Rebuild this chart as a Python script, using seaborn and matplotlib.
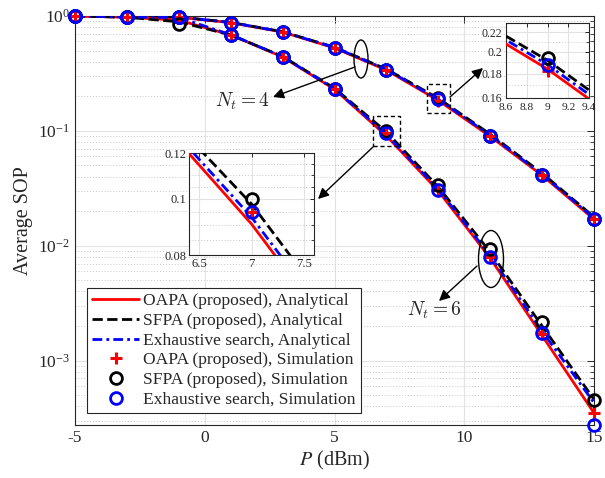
import numpy as np
import pandas as pd
import matplotlib
matplotlib.use("Agg")
import matplotlib.pyplot as plt
import seaborn as sns
from matplotlib.patches import Ellipse, Rectangle, FancyArrowPatch
from matplotlib.ticker import FixedLocator, FixedFormatter, LogLocator, NullFormatter

# ---------------- data ----------------
P_dbm = [-5, -3, -1, 1, 3, 5, 7, 9, 11, 13, 15]

# N_t = 4 (analytical)
oapa_an_4 = [1.0, 0.99, 0.975, 0.875, 0.725, 0.527, 0.338, 0.184, 0.0895, 0.0410, 0.0170]
sfpa_an_4 = [1.0, 0.99, 0.980, 0.880, 0.730, 0.535, 0.345, 0.192, 0.0935, 0.0428, 0.0178]
exh_an_4 = [1.0, 0.99, 0.978, 0.878, 0.728, 0.532, 0.342, 0.188, 0.0915, 0.0418, 0.0174]
# N_t = 4 (simulation)
oapa_sim_4 = [1.0, 0.99, 0.98, 0.875, 0.725, 0.527, 0.339, 0.182, 0.0905, 0.0413, 0.0171]
sfpa_sim_4 = [1.0, 0.99, 0.98, 0.875, 0.725, 0.527, 0.339, 0.194, 0.0905, 0.0413, 0.0171]
exh_sim_4 = [1.0, 0.99, 0.98, 0.875, 0.725, 0.527, 0.339, 0.188, 0.0905, 0.0413, 0.0171]

# N_t = 6 (analytical)
oapa_an_6 = [1.0, 0.975, 0.92, 0.684, 0.440, 0.230, 0.0905, 0.0300, 0.0078, 0.00165, 0.00035]
sfpa_an_6 = [1.0, 0.975, 0.89, 0.684, 0.445, 0.235, 0.0980, 0.0325, 0.0088, 0.00200, 0.00046]
exh_an_6 = [1.0, 0.980, 0.97, 0.688, 0.443, 0.232, 0.0930, 0.0310, 0.0082, 0.00180, 0.00043]
# N_t = 6 (simulation)
oapa_sim_6 = [1.0, 0.975, 0.96, 0.684, 0.443, 0.232, 0.095, 0.0306, 0.0080, 0.00172, 0.00035]
sfpa_sim_6 = [1.0, 0.975, 0.86, 0.684, 0.443, 0.232, 0.100, 0.0335, 0.0094, 0.00218, 0.00045]
exh_sim_6 = [1.0, 0.975, 0.975, 0.684, 0.443, 0.232, 0.095, 0.0306, 0.0080, 0.00173, 0.000275]

labels_an = ["OAPA (proposed), Analytical", "SFPA (proposed), Analytical",
             "Exhaustive search, Analytical"]
labels_sim = ["OAPA (proposed), Simulation", "SFPA (proposed), Simulation",
              "Exhaustive search, Simulation"]

x_ticks = [-5, 0, 5, 10, 15]

# ---------------- style ----------------
sns.set_style("white")
plt.rcParams.update({
    "font.family": ["Liberation Serif", "DejaVu Serif"],
    "mathtext.fontset": "stix",
    "axes.unicode_minus": False,
    "text.color": "#262626",
    "axes.edgecolor": "#262626",
    "xtick.color": "#262626",
    "ytick.color": "#262626",
})

RED, BLACK, BLUE = "#ff0000", "#000000", "#0000ff"
LW = 2.0
DASHDOT = (0, (3.5, 1.5, 1.0, 1.5))

fig = plt.figure(figsize=(6.05, 4.78), dpi=100)
ax = fig.add_axes([75 / 605, 1 - 425 / 478, 519 / 605, 409 / 478])


def draw(a, main):
    clip = not main
    sets = [(oapa_an_4, sfpa_an_4, exh_an_4, oapa_sim_4, sfpa_sim_4, exh_sim_4),
            (oapa_an_6, sfpa_an_6, exh_an_6, oapa_sim_6, sfpa_sim_6, exh_sim_6)]
    for k, (oa, sa, ea, os_, ss, es) in enumerate(sets):
        lab = main and k == 0
        sns.lineplot(x=P_dbm, y=oa, ax=a, color=RED, lw=LW, linestyle="-",
                     estimator=None, label=labels_an[0] if lab else None, zorder=3)
        sns.lineplot(x=P_dbm, y=sa, ax=a, color=BLACK, lw=LW, linestyle="--",
                     estimator=None, label=labels_an[1] if lab else None, zorder=3)
        sns.lineplot(x=P_dbm, y=ea, ax=a, color=BLUE, lw=LW, linestyle=DASHDOT,
                     estimator=None, label=labels_an[2] if lab else None, zorder=3)
    for k, (oa, sa, ea, os_, ss, es) in enumerate(sets):
        lab = main and k == 0
        sns.lineplot(x=P_dbm, y=os_, ax=a, color=RED, linestyle="", marker="+",
                     ms=8, mew=2.2, mec=RED, mfc=RED, estimator=None, clip_on=clip,
                     label=labels_sim[0] if lab else None, zorder=4)
        sns.lineplot(x=P_dbm, y=ss, ax=a, color=BLACK, linestyle="", marker="o",
                     ms=8.5, mew=2.0, mfc="none", mec=BLACK, estimator=None, clip_on=clip,
                     label=labels_sim[1] if lab else None, zorder=4)
        sns.lineplot(x=P_dbm, y=es, ax=a, color=BLUE, linestyle="", marker="o",
                     ms=8.5, mew=2.0, mfc="none", mec=BLUE, estimator=None, clip_on=clip,
                     label=labels_sim[2] if lab else None, zorder=5)
    a.set_yscale("log")
    if a.get_legend() is not None:
        a.get_legend().remove()


def style_axes(a, fs, major_len, minor_len):
    a.grid(True, which="major", color="#e2e2e2", lw=0.8, ls="-")
    a.grid(True, which="minor", axis="y", color="#c8c8c8", lw=0.7, ls=(0, (1, 2)))
    a.tick_params(which="both", direction="in", top=True, right=True, labelsize=fs)
    a.tick_params(which="major", length=major_len, width=0.7)
    a.tick_params(which="minor", length=minor_len, width=0.6)
    for s in a.spines.values():
        s.set_linewidth(0.8)
        s.set_color("#262626")
    a.set_axisbelow(True)


draw(ax, True)
ax.set_xlim(-5, 15)
ax.set_ylim(2.75e-4, 1.0)
ax.xaxis.set_major_locator(FixedLocator(x_ticks))
ax.yaxis.set_major_locator(LogLocator(base=10, numticks=10))
ax.yaxis.set_minor_locator(LogLocator(base=10, subs=np.arange(2, 10), numticks=20))
ax.yaxis.set_minor_formatter(NullFormatter())
style_axes(ax, 12.5, 5, 3)
ax.set_xlabel(r"$P$ (dBm)", fontsize=14.5, labelpad=2)
ax.set_ylabel("Average SOP", fontsize=14.5, labelpad=4)

h, l = ax.get_legend_handles_labels()
order = labels_an + labels_sim
hh = [h[l.index(s)] for s in order]
leg = ax.legend(hh, order, loc="lower left", bbox_to_anchor=(0.023, 0.029),
                borderaxespad=0, fontsize=12.6, frameon=True, fancybox=False,
                edgecolor="#262626", framealpha=1, handlelength=2.7,
                handletextpad=0.2, labelspacing=0.2, borderpad=0.3)
leg.get_frame().set_linewidth(0.8)

# ---------------- insets ----------------
ins1 = fig.add_axes([506 / 605, 1 - 98 / 478, 83 / 605, 75 / 478])
draw(ins1, False)
ins1.set_xlim(8.6, 9.4)
ins1.set_ylim(0.16, 0.23)
ins1.xaxis.set_major_locator(FixedLocator([8.6, 8.8, 9, 9.2, 9.4]))
ins1.xaxis.set_major_formatter(FixedFormatter(["8.6", "8.8", "9", "9.2", "9.4"]))
ins1.yaxis.set_major_locator(FixedLocator([0.16, 0.18, 0.2, 0.22]))
ins1.yaxis.set_major_formatter(FixedFormatter(["0.16", "0.18", "0.2", "0.22"]))
ins1.yaxis.set_minor_locator(FixedLocator([0.17, 0.19, 0.21]))
ins1.yaxis.set_minor_formatter(NullFormatter())
ins1.set_xlabel("")
ins1.set_ylabel("")
style_axes(ins1, 8.5, 3, 2)
ins1.tick_params(axis="x", pad=3.5, labelsize=8.2)
ins1.tick_params(axis="y", pad=2.5)

ins2 = fig.add_axes([189 / 605, 1 - 255 / 478, 125 / 605, 102 / 478])
draw(ins2, False)
ins2.set_xlim(6.4, 7.6)
ins2.set_ylim(0.08, 0.12)
ins2.xaxis.set_major_locator(FixedLocator([6.5, 7, 7.5]))
ins2.xaxis.set_major_formatter(FixedFormatter(["6.5", "7", "7.5"]))
ins2.yaxis.set_major_locator(FixedLocator([0.08, 0.1, 0.12]))
ins2.yaxis.set_major_formatter(FixedFormatter(["0.08", "0.1", "0.12"]))
ins2.yaxis.set_minor_locator(FixedLocator([0.085, 0.09, 0.095, 0.105, 0.11, 0.115]))
ins2.yaxis.set_minor_formatter(NullFormatter())
ins2.set_xlabel("")
ins2.set_ylabel("")
style_axes(ins2, 9, 3, 2)
ins2.tick_params(axis="x", pad=2)
ins2.tick_params(axis="y", pad=2)

# ---------------- annotations (figure pixel positions) ----------------
def F(px, py):
    return (px / 605, 1 - py / 478)


def ellipse(cx, cy, w, h):
    fig.add_artist(Ellipse(F(cx, cy), w / 605, h / 478, fill=False, ec="k", lw=1.0,
                           transform=fig.transFigure, zorder=6))


def arrow(p0, p1):
    fig.add_artist(FancyArrowPatch(F(*p0), F(*p1), transform=fig.transFigure,
                                   arrowstyle="-|>", mutation_scale=16, lw=1.0,
                                   color="k", shrinkA=0, shrinkB=0, zorder=6))


def drect(x0, y0, x1, y1):
    fig.add_artist(Rectangle(F(x0, y1), (x1 - x0) / 605, (y1 - y0) / 478, fill=False,
                             ec="k", lw=1.0, ls=(0, (3, 2)), transform=fig.transFigure,
                             zorder=6))


ellipse(361, 59, 14, 38)
arrow((355, 67), (273, 97))
fig.text(*F(270, 101), r"$N_t = 4$", ha="right", va="center", fontsize=14,
         math_fontfamily="cm", color="#262626")

ellipse(491, 259, 25, 57)
arrow((477, 266), (439, 301))
fig.text(*F(434, 310), r"$N_t = 6$", ha="center", va="center", fontsize=14,
         math_fontfamily="cm", color="#262626")

drect(427, 84, 450, 113)
arrow((450, 97), (483, 68))
drect(373, 116, 400, 146)
arrow((373, 147), (318, 199))

fig.savefig("out.png", dpi=100)
